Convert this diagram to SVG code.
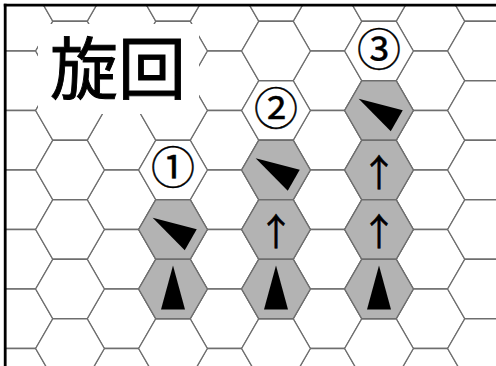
<svg xmlns="http://www.w3.org/2000/svg" xmlns:xlink="http://www.w3.org/1999/xlink" width="496" height="366" viewBox="0 0 496 366">
<style>
.g{fill:#fff;stroke:#6e6e6e;stroke-width:1.3}
.sh{fill:#b3b3b3;stroke:#6e6e6e;stroke-width:1.3}
.pc{fill:#000}
.num{font-family:"Noto Sans CJK JP","Noto Sans CJK SC",sans-serif;font-size:44px;text-anchor:middle;fill:#000;stroke:#000;stroke-width:0.4}
.arr{font-family:"Noto Sans CJK JP","Noto Sans CJK SC",sans-serif;font-size:37px;text-anchor:middle;fill:#000;stroke:#000;stroke-width:0.5}
.ttl{font-family:"Noto Sans CJK JP","Noto Sans CJK SC",sans-serif;font-size:68px;fill:#000;stroke:#000;stroke-width:0.9}
</style>
<defs>
<path id="hx" d="M34.35,0L17.175,29.75L-17.175,29.75L-34.35,0L-17.175,-29.75L17.175,-29.75Z"/>
<path id="tri" d="M0,-23.5L12,20.5L-12,20.5Z"/>
<clipPath id="cp"><rect x="6" y="6" width="490" height="360"/></clipPath>
</defs>
<rect width="496" height="366" fill="#fff"/>
<g id="grid" class="g" clip-path="url(#cp)">
<use xlink:href="#hx" x="18.5" y="21.25"/><use xlink:href="#hx" x="18.5" y="80.75"/><use xlink:href="#hx" x="18.5" y="140.25"/><use xlink:href="#hx" x="18.5" y="199.75"/><use xlink:href="#hx" x="18.5" y="259.25"/><use xlink:href="#hx" x="18.5" y="318.75"/><use xlink:href="#hx" x="18.5" y="378.25"/>
<use xlink:href="#hx" x="121.5" y="21.25"/><use xlink:href="#hx" x="121.5" y="80.75"/><use xlink:href="#hx" x="121.5" y="140.25"/><use xlink:href="#hx" x="121.5" y="199.75"/><use xlink:href="#hx" x="121.5" y="259.25"/><use xlink:href="#hx" x="121.5" y="318.75"/><use xlink:href="#hx" x="121.5" y="378.25"/>
<use xlink:href="#hx" x="224.5" y="21.25"/><use xlink:href="#hx" x="224.5" y="80.75"/><use xlink:href="#hx" x="224.5" y="140.25"/><use xlink:href="#hx" x="224.5" y="199.75"/><use xlink:href="#hx" x="224.5" y="259.25"/><use xlink:href="#hx" x="224.5" y="318.75"/><use xlink:href="#hx" x="224.5" y="378.25"/>
<use xlink:href="#hx" x="327.5" y="21.25"/><use xlink:href="#hx" x="327.5" y="80.75"/><use xlink:href="#hx" x="327.5" y="140.25"/><use xlink:href="#hx" x="327.5" y="199.75"/><use xlink:href="#hx" x="327.5" y="259.25"/><use xlink:href="#hx" x="327.5" y="318.75"/><use xlink:href="#hx" x="327.5" y="378.25"/>
<use xlink:href="#hx" x="430.5" y="21.25"/><use xlink:href="#hx" x="430.5" y="80.75"/><use xlink:href="#hx" x="430.5" y="140.25"/><use xlink:href="#hx" x="430.5" y="199.75"/><use xlink:href="#hx" x="430.5" y="259.25"/><use xlink:href="#hx" x="430.5" y="318.75"/><use xlink:href="#hx" x="430.5" y="378.25"/>
<use xlink:href="#hx" x="70" y="-8.5"/><use xlink:href="#hx" x="70" y="51"/><use xlink:href="#hx" x="70" y="110.5"/><use xlink:href="#hx" x="70" y="170"/><use xlink:href="#hx" x="70" y="229.5"/><use xlink:href="#hx" x="70" y="289"/><use xlink:href="#hx" x="70" y="348.5"/>
<use xlink:href="#hx" x="173" y="-8.5"/><use xlink:href="#hx" x="173" y="51"/><use xlink:href="#hx" x="173" y="110.5"/><use xlink:href="#hx" x="173" y="170"/><use xlink:href="#hx" x="173" y="229.5"/><use xlink:href="#hx" x="173" y="289"/><use xlink:href="#hx" x="173" y="348.5"/>
<use xlink:href="#hx" x="276" y="-8.5"/><use xlink:href="#hx" x="276" y="51"/><use xlink:href="#hx" x="276" y="110.5"/><use xlink:href="#hx" x="276" y="170"/><use xlink:href="#hx" x="276" y="229.5"/><use xlink:href="#hx" x="276" y="289"/><use xlink:href="#hx" x="276" y="348.5"/>
<use xlink:href="#hx" x="379" y="-8.5"/><use xlink:href="#hx" x="379" y="51"/><use xlink:href="#hx" x="379" y="110.5"/><use xlink:href="#hx" x="379" y="170"/><use xlink:href="#hx" x="379" y="229.5"/><use xlink:href="#hx" x="379" y="289"/><use xlink:href="#hx" x="379" y="348.5"/>
<use xlink:href="#hx" x="482" y="-8.5"/><use xlink:href="#hx" x="482" y="51"/><use xlink:href="#hx" x="482" y="110.5"/><use xlink:href="#hx" x="482" y="170"/><use xlink:href="#hx" x="482" y="229.5"/><use xlink:href="#hx" x="482" y="289"/><use xlink:href="#hx" x="482" y="348.5"/>
</g>
<g id="title">
<rect x="38" y="24" width="161" height="90" fill="#fff"/>
<text class="ttl" x="50" y="94">旋回</text>
</g>
<g id="frame" stroke="#000" stroke-width="2.8" fill="none">
<line x1="5.2" y1="3.8" x2="5.2" y2="366"/>
<line x1="3.8" y1="5.2" x2="496" y2="5.2"/>
</g>
<g id="step1">
<use class="sh" xlink:href="#hx" x="173" y="229.5"/>
<use class="sh" xlink:href="#hx" x="173" y="289"/>
<use class="pc" xlink:href="#tri" transform="translate(173,229.5) rotate(-60)"/>
<use class="pc" xlink:href="#tri" transform="translate(173,289)"/>
<text class="num" x="173" y="184">①</text>
</g>
<g id="step2">
<use class="sh" xlink:href="#hx" x="276" y="170"/>
<use class="sh" xlink:href="#hx" x="276" y="229.5"/>
<use class="sh" xlink:href="#hx" x="276" y="289"/>
<use class="pc" xlink:href="#tri" transform="translate(276,170) rotate(-60)"/>
<text class="arr" x="276" y="246">↑</text>
<use class="pc" xlink:href="#tri" transform="translate(276,289)"/>
<text class="num" x="276" y="125">②</text>
</g>
<g id="step3">
<use class="sh" xlink:href="#hx" x="379" y="110.5"/>
<use class="sh" xlink:href="#hx" x="379" y="170"/>
<use class="sh" xlink:href="#hx" x="379" y="229.5"/>
<use class="sh" xlink:href="#hx" x="379" y="289"/>
<use class="pc" xlink:href="#tri" transform="translate(379,110.5) rotate(-60)"/>
<text class="arr" x="379" y="186.5">↑</text>
<text class="arr" x="379" y="246">↑</text>
<use class="pc" xlink:href="#tri" transform="translate(379,289)"/>
<text class="num" x="379" y="66">③</text>
</g>
<g id="connectors"/>
</svg>
